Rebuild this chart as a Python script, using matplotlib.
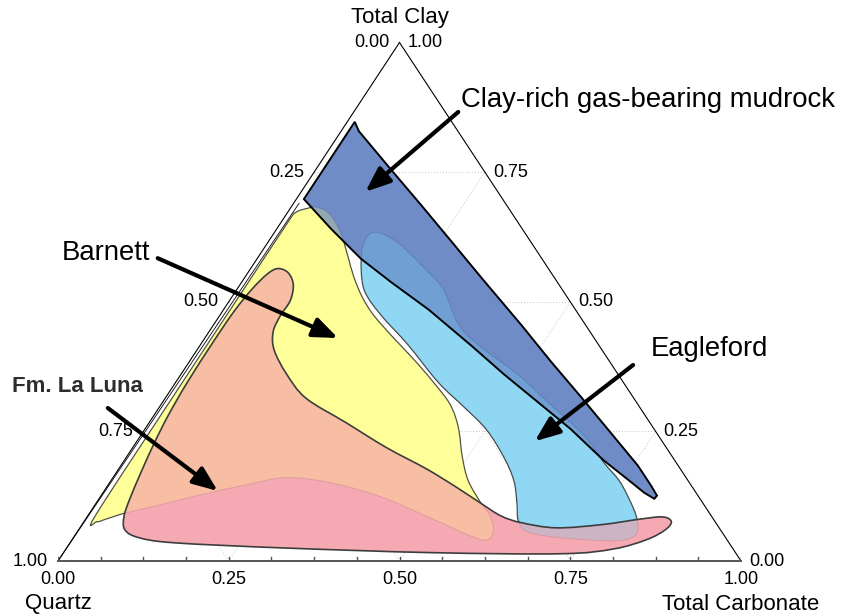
import numpy as np
import matplotlib.pyplot as plt
from matplotlib.path import Path
from matplotlib.patches import PathPatch

plt.rcParams['font.family'] = ['Liberation Sans', 'DejaVu Sans']

# Ternary compositions (fractions) of each field outline: carbonate and clay,
# quartz is the remainder.

# Clay-rich gas-bearing mudrock
CLAY_RICH_CARB = [0.011, 0.026, 0.110, 0.189, 0.275, 0.346, 0.451, 0.529, 0.608, 0.686,
                  0.757, 0.796, 0.814, 0.813, 0.792, 0.756, 0.702, 0.624, 0.550, 0.473,
                  0.398, 0.300, 0.220, 0.152, 0.079, 0.011]
CLAY_RICH_CLAY = [0.847, 0.829, 0.755, 0.686, 0.610, 0.547, 0.455, 0.385, 0.316, 0.247,
                  0.184, 0.145, 0.126, 0.120, 0.132, 0.157, 0.194, 0.254, 0.306, 0.360,
                  0.415, 0.485, 0.537, 0.583, 0.641, 0.698]

# Barnett
BARNETT_CARB = [0.012, 0.025, 0.038, 0.063, 0.098, 0.131, 0.159, 0.190, 0.224, 0.274,
                0.325, 0.377, 0.423, 0.457, 0.492, 0.523, 0.563, 0.589, 0.608, 0.608,
                0.581, 0.504, 0.411, 0.324, 0.253, 0.202, 0.145, 0.097, 0.053, 0.030,
                0.019, 0.011, 0.010, 0.010, 0.010]
BARNETT_CLAY = [0.672, 0.680, 0.682, 0.669, 0.632, 0.587, 0.548, 0.510, 0.475, 0.432,
                0.390, 0.345, 0.302, 0.258, 0.200, 0.155, 0.112, 0.087, 0.058, 0.041,
                0.048, 0.083, 0.124, 0.151, 0.161, 0.147, 0.128, 0.109, 0.093, 0.081,
                0.076, 0.089, 0.306, 0.500, 0.651]

# Eagleford
EAGLEFORD_CARB = [0.142, 0.161, 0.196, 0.245, 0.295, 0.322, 0.350, 0.378, 0.424, 0.494,
                  0.572, 0.649, 0.704, 0.744, 0.776, 0.803, 0.819, 0.817, 0.790, 0.714,
                  0.660, 0.635, 0.616, 0.590, 0.553, 0.500, 0.446, 0.384, 0.304, 0.235,
                  0.190, 0.163, 0.143]
EAGLEFORD_CLAY = [0.632, 0.630, 0.610, 0.572, 0.531, 0.500, 0.465, 0.438, 0.405, 0.359,
                  0.300, 0.242, 0.190, 0.155, 0.120, 0.087, 0.060, 0.045, 0.039, 0.045,
                  0.056, 0.078, 0.112, 0.155, 0.200, 0.254, 0.297, 0.345, 0.417, 0.475,
                  0.519, 0.562, 0.607]

# Fm. La Luna
LA_LUNA_CARB = [0.040, 0.059, 0.078, 0.089, 0.089, 0.094, 0.113, 0.154, 0.206, 0.288,
                0.371, 0.450, 0.511, 0.564, 0.605, 0.641, 0.697, 0.760, 0.813, 0.843,
                0.860, 0.859, 0.841, 0.801, 0.730, 0.543, 0.321, 0.154, 0.096, 0.068,
                0.054, 0.046, 0.036, 0.027, 0.021, 0.017, 0.016, 0.017, 0.022, 0.030]
LA_LUNA_CLAY = [0.564, 0.556, 0.533, 0.502, 0.473, 0.442, 0.407, 0.361, 0.314, 0.267,
                0.219, 0.178, 0.143, 0.111, 0.087, 0.074, 0.064, 0.070, 0.081, 0.085,
                0.076, 0.060, 0.041, 0.023, 0.014, 0.016, 0.025, 0.035, 0.045, 0.060,
                0.085, 0.116, 0.171, 0.229, 0.281, 0.345, 0.423, 0.481, 0.525, 0.554]

TICKS = [0.0, 0.25, 0.50, 0.75, 1.0]
GRID = [0.25, 0.50, 0.75]

# annotations: text, text anchor (x, y in plot units), arrow start, arrow tip
LABELS = ['Clay-rich gas-bearing mudrock', 'Barnett', 'Eagleford', 'Fm. La Luna']
LABEL_POS = [(0.590, 0.889), (0.006, 0.594), (0.868, 0.409), (-0.067, 0.336)]
ARROW_FROM = [(0.586, 0.866), (0.146, 0.584), (0.842, 0.378), (0.073, 0.295)]
ARROW_TO = [(0.450, 0.712), (0.410, 0.430), (0.698, 0.231), (0.234, 0.135)]


def tern(carb, clay):
    carb = np.asarray(carb, dtype=float)
    clay = np.asarray(clay, dtype=float)
    return carb + clay / 2, clay


def outline_path(carb, clay, smooth=True):
    x, y = tern(carb, clay)
    pts = np.column_stack([x, y])
    n = len(pts)
    verts = [pts[0]]
    codes = [Path.MOVETO]
    if smooth:
        for i in range(n):
            p0, p1, p2, p3 = pts[i - 1], pts[i], pts[(i + 1) % n], pts[(i + 2) % n]
            verts += [p1 + (p2 - p0) / 6, p2 - (p3 - p1) / 6, p2]
            codes += [Path.CURVE4] * 3
    else:
        for p in pts[1:]:
            verts.append(p)
            codes.append(Path.LINETO)
    verts.append(pts[0])
    codes.append(Path.CLOSEPOLY)
    return Path(verts, codes)


def main():
    fig = plt.figure(figsize=(8.51, 6.16), dpi=100)
    ax = fig.add_axes([58 / 851, 55 / 616, 683 / 851, 518.5 / 616])
    ax.set_xlim(0, 1)
    ax.set_ylim(0, 1)
    ax.axis('off')

    # dotted grid
    gkw = dict(color='#c4c4c4', lw=0.7, ls=(0, (1, 2)), zorder=1)
    for v in GRID:
        ax.plot([v / 2, 1 - v / 2], [v, v], **gkw)
        ax.plot([v, v + (1 - v) / 2], [0, 1 - v], **gkw)
        ax.plot([1 - v, (1 - v) / 2], [0, 1 - v], **gkw)

    barnett = outline_path(BARNETT_CARB, BARNETT_CLAY)
    eagle = outline_path(EAGLEFORD_CARB, EAGLEFORD_CLAY)
    luna = outline_path(LA_LUNA_CARB, LA_LUNA_CLAY)
    clay_rich = outline_path(CLAY_RICH_CARB, CLAY_RICH_CLAY, smooth=False)

    # fields, lower layers show through the upper ones
    ax.add_patch(PathPatch(barnett, fc='#ffff99', ec='#3a3a3a', lw=0.9, zorder=2))
    ax.add_patch(PathPatch(eagle, fc='#8fd7f3', ec='#333333', lw=0.9, zorder=2))
    ax.add_patch(PathPatch(luna, fc='#f4a0aa', ec='none', alpha=0.9, zorder=3))
    ax.add_patch(PathPatch(clay_rich, fc='#5f80c1', ec='none', alpha=0.9, zorder=3))
    ax.add_patch(PathPatch(barnett, fc='#ffff99', ec='none', alpha=0.25, zorder=4))
    ax.add_patch(PathPatch(eagle, fc='#8fd7f3', ec='none', alpha=0.3, zorder=4))
    ax.add_patch(PathPatch(luna, fc='none', ec='#3d3d3d', lw=1.2, zorder=5))
    ax.add_patch(PathPatch(clay_rich, fc='none', ec='black', lw=1.4, zorder=5))

    # triangle frame
    ax.plot([0, 0.5], [0, 1], color='black', lw=0.8, zorder=6, clip_on=False)
    ax.plot([0.5, 1], [1, 0], color='black', lw=0.8, zorder=6, clip_on=False)
    x2, y2 = tern(0.008, 0.69)
    ax.plot([0, x2], [0, y2], color='black', lw=0.6, zorder=6)
    ax.plot([0, 1], [0, 0], color='#555555', lw=1.4, zorder=6, clip_on=False)
    for k in np.arange(0, 1.0001, 1 / 16):
        ax.plot([k, k], [0, 0.007], color='#555555', lw=1.0, zorder=6)

    # tick labels
    tkw = dict(fontsize=13, textcoords='offset pixels', va='center', annotation_clip=False)
    for t in TICKS:
        # quartz on the left edge
        ax.annotate(f'{t:.2f}', xy=tern(0, 1 - t), xytext=(-10, 0), ha='right', **tkw)
        # clay on the right edge
        ax.annotate(f'{t:.2f}', xy=tern(1 - t, t), xytext=(8, 0), ha='left', **tkw)
        # carbonate along the base
        ax.annotate(f'{t:.2f}', xy=tern(t, 0), xytext=(0, -18), ha='center', **tkw)

    nkw = dict(fontsize=16, textcoords='offset pixels', va='center', ha='center',
               annotation_clip=False)
    ax.annotate('Total Clay', xy=(0.5, 1), xytext=(0, 25), **nkw)
    ax.annotate('Quartz', xy=(0, 0), xytext=(0, -43), **nkw)
    ax.annotate('Total Carbonate', xy=(1, 0), xytext=(0, -43), **nkw)

    # field labels with arrows
    for i, name in enumerate(LABELS):
        if name == 'Fm. La Luna':
            ax.text(*LABEL_POS[i], name, fontsize=16, fontweight='bold',
                    color='#2e2e2e', ha='left', va='center', clip_on=False)
        else:
            ax.text(*LABEL_POS[i], name, fontsize=19.8, ha='left', va='center',
                    clip_on=False)
        ax.annotate('', xy=ARROW_TO[i], xytext=ARROW_FROM[i], annotation_clip=False,
                    arrowprops=dict(arrowstyle='-|>,head_length=1.0,head_width=0.4',
                                    mutation_scale=15, lw=3, color='black',
                                    shrinkA=0, shrinkB=0), zorder=7)

    fig.savefig('out.png', dpi=100)


if __name__ == '__main__':
    main()
